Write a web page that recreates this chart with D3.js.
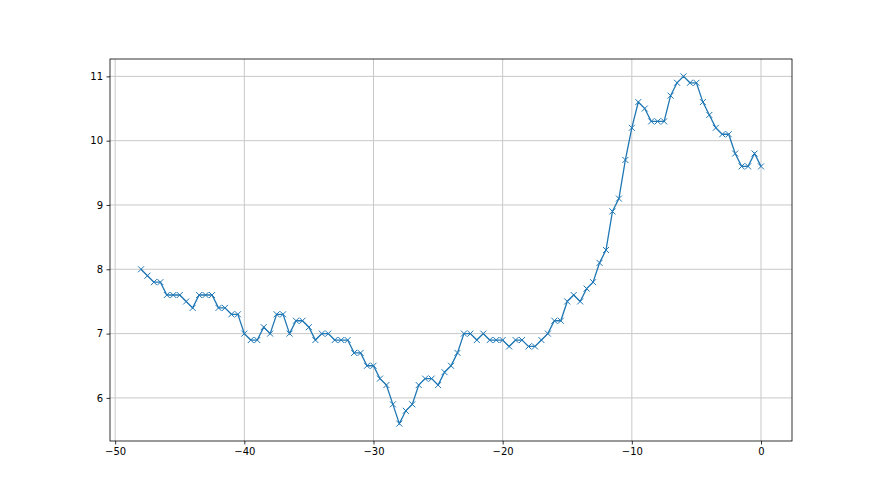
<!DOCTYPE html>
<html>
<head>
<meta charset="utf-8">
<script src="https://cdn.jsdelivr.net/npm/d3@7"></script>
<style>
body { margin: 0; background: #fff; }
.tick text { font-family: "DejaVu Sans", sans-serif; font-size: 10px; fill: #000; }
</style>
</head>
<body>
<script>
// x runs from -48 to 0 in half steps
var xValues = d3.range(-48, 0.001, 0.5);
var yValues = [
    8.0, 7.9, 7.8, 7.8, 7.6, 7.6, 7.6, 7.5, 7.4, 7.6,
    7.6, 7.6, 7.4, 7.4, 7.3, 7.3, 7.0, 6.9, 6.9, 7.1,
    7.0, 7.3, 7.3, 7.0, 7.2, 7.2, 7.1, 6.9, 7.0, 7.0,
    6.9, 6.9, 6.9, 6.7, 6.7, 6.5, 6.5, 6.3, 6.2, 5.9,
    5.6, 5.8, 5.9, 6.2, 6.3, 6.3, 6.2, 6.4, 6.5, 6.7,
    7.0, 7.0, 6.9, 7.0, 6.9, 6.9, 6.9, 6.8, 6.9, 6.9,
    6.8, 6.8, 6.9, 7.0, 7.2, 7.2, 7.5, 7.6, 7.5, 7.7,
    7.8, 8.1, 8.3, 8.9, 9.1, 9.7, 10.2, 10.6, 10.5, 10.3,
    10.3, 10.3, 10.7, 10.9, 11.0, 10.9, 10.9, 10.6, 10.4, 10.2,
    10.1, 10.1, 9.8, 9.6, 9.6, 9.8, 9.6
];
var xTicks = [-50, -40, -30, -20, -10, 0];
var yTicks = [6, 7, 8, 9, 10, 11];

var data = xValues.map(function(x, i) { return {x: x, y: yValues[i]}; });

var width = 880, height = 495;
var plotLeft = 110, plotRight = 792, plotTop = 59, plotBottom = 441;

var svg = d3.select("body").append("svg")
    .attr("width", width)
    .attr("height", height);

// matplotlib style 5% margins
var xMin = d3.min(xValues), xMax = d3.max(xValues);
var yMin = d3.min(yValues), yMax = d3.max(yValues);
var xPad = (xMax - xMin) * 0.05, yPad = (yMax - yMin) * 0.05;

var x = d3.scaleLinear().domain([xMin - xPad, xMax + xPad]).range([plotLeft, plotRight]);
var y = d3.scaleLinear().domain([yMin - yPad, yMax + yPad]).range([plotBottom, plotTop]);

// grid
svg.append("g").selectAll("line").data(xTicks).enter().append("line")
    .attr("x1", function(d) { return x(d); })
    .attr("x2", function(d) { return x(d); })
    .attr("y1", plotTop).attr("y2", plotBottom)
    .attr("stroke", "#c8c8c8").attr("stroke-width", 1);
svg.append("g").selectAll("line").data(yTicks).enter().append("line")
    .attr("y1", function(d) { return y(d); })
    .attr("y2", function(d) { return y(d); })
    .attr("x1", plotLeft).attr("x2", plotRight)
    .attr("stroke", "#c8c8c8").attr("stroke-width", 1);

// line
var line = d3.line().x(function(d) { return x(d.x); }).y(function(d) { return y(d.y); });
svg.append("path")
    .datum(data)
    .attr("d", line)
    .attr("fill", "none")
    .attr("stroke", "#1f77b4")
    .attr("stroke-width", 1.3);

// x markers
var m = 3;
svg.append("g").selectAll("path").data(data).enter().append("path")
    .attr("d", function(d) {
        var cx = x(d.x), cy = y(d.y);
        return "M" + (cx - m) + "," + (cy - m) + "L" + (cx + m) + "," + (cy + m) +
               "M" + (cx - m) + "," + (cy + m) + "L" + (cx + m) + "," + (cy - m);
    })
    .attr("stroke", "#1f77b4")
    .attr("stroke-width", 1);

// axes
var xAxis = d3.axisBottom(x).tickValues(xTicks).tickSize(3.5).tickPadding(3.5)
    .tickFormat(function(d) { return d < 0 ? "\u2212" + Math.abs(d) : d; });
svg.append("g")
    .attr("transform", "translate(0," + plotBottom + ")")
    .call(xAxis);

var yAxis = d3.axisLeft(y).tickValues(yTicks).tickSize(3.5).tickPadding(3.5)
    .tickFormat(d3.format("d"));
svg.append("g")
    .attr("transform", "translate(" + plotLeft + ",0)")
    .call(yAxis);

svg.selectAll(".domain").remove();
svg.selectAll(".tick line").attr("stroke", "#000").attr("stroke-width", 0.8);

// frame
svg.append("rect")
    .attr("x", plotLeft).attr("y", plotTop)
    .attr("width", plotRight - plotLeft).attr("height", plotBottom - plotTop)
    .attr("fill", "none")
    .attr("stroke", "#000")
    .attr("stroke-width", 0.8);
</script>
</body>
</html>
